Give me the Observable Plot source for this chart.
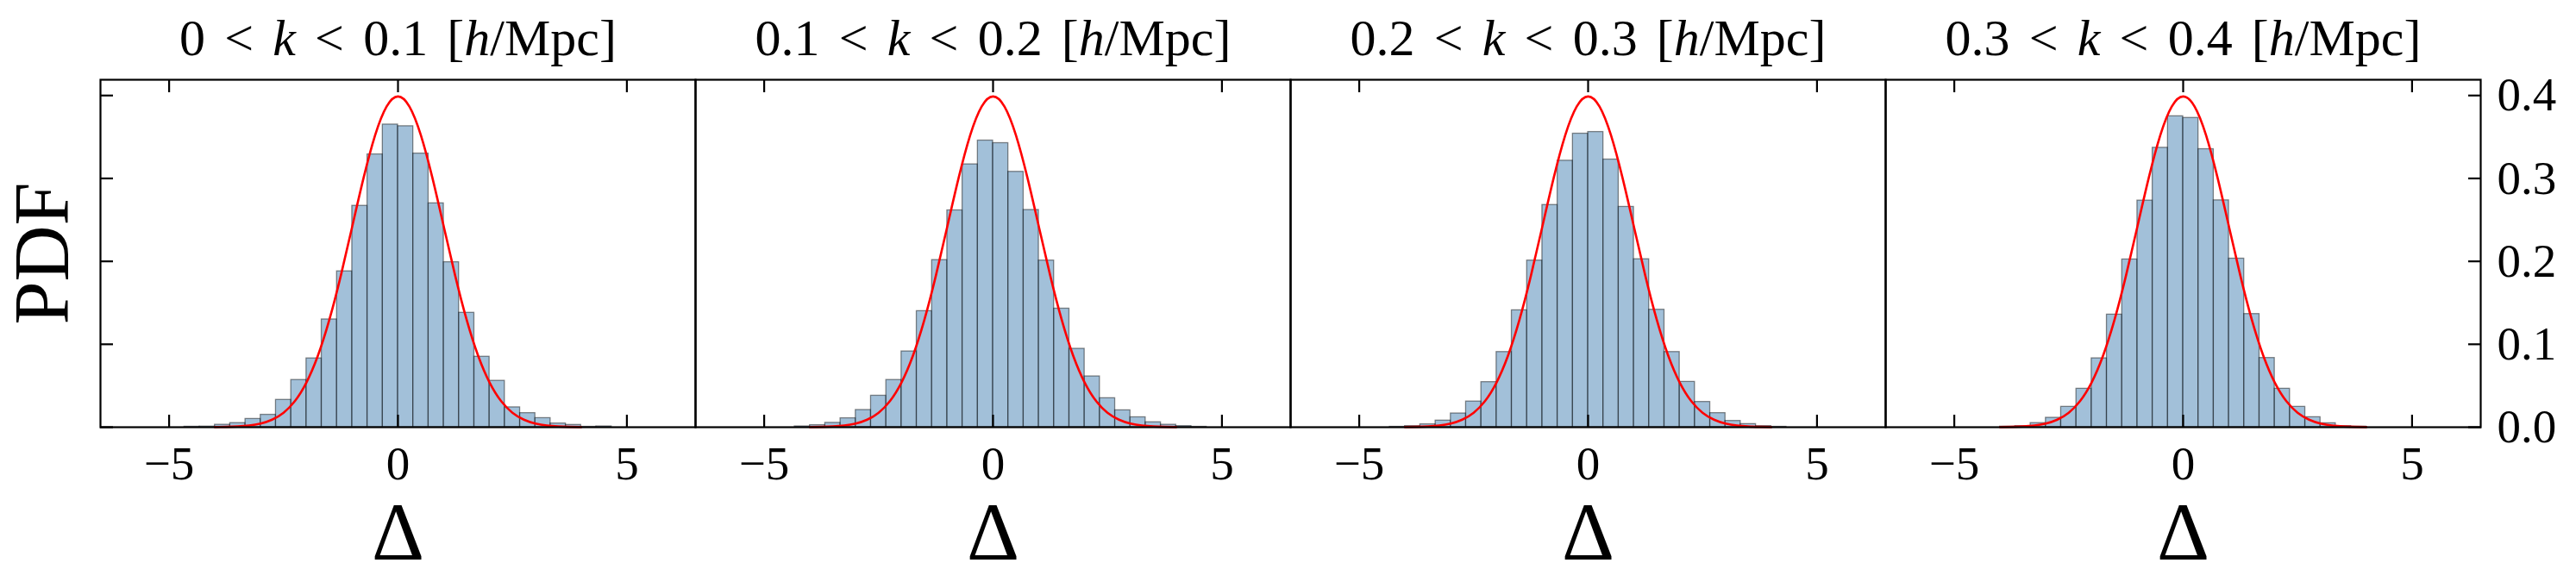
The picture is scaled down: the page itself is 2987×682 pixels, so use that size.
<!DOCTYPE html>
<html><head><meta charset="utf-8">
<script src="https://cdn.jsdelivr.net/npm/d3@7"></script>
<script src="https://cdn.jsdelivr.net/npm/@observablehq/plot@0.6"></script>
<style>html,body{margin:0;padding:0;background:#fff;} #chart{width:2987px;height:682px;}</style>
</head><body><div id="chart"></div>
<script>
const panelTitles = ["0 < k < 0.1 [h/Mpc]", "0.1 < k < 0.2 [h/Mpc]", "0.2 < k < 0.3 [h/Mpc]", "0.3 < k < 0.4 [h/Mpc]"];
const binEdges = [-5, -4.667, -4.333, -4, -3.667, -3.333, -3, -2.667, -2.333, -2, -1.667, -1.333, -1, -0.667, -0.333, 0,
  0.333, 0.667, 1, 1.333, 1.667, 2, 2.333, 2.667, 3, 3.333, 3.667, 4, 4.333, 4.667, 5];
const pdfK1 = [0, 0.0006, 0.0008, 0.003, 0.005, 0.010, 0.015, 0.033, 0.057, 0.083, 0.130, 0.188, 0.267, 0.329, 0.365,
  0.363, 0.330, 0.270, 0.199, 0.138, 0.085, 0.056, 0.024, 0.017, 0.011, 0.0045, 0.0028, 0.0005, 0.001, 0];
const pdfK2 = [0, 0, 0.001, 0.0025, 0.0053, 0.0108, 0.0208, 0.038, 0.057, 0.0914, 0.140, 0.2016, 0.2615, 0.317, 0.3457,
  0.3426, 0.308, 0.262, 0.201, 0.143, 0.0946, 0.0613, 0.035, 0.0204, 0.012, 0.006, 0.003, 0.0014, 0.0005, 0];
const pdfK3 = [0, 0, 0.0005, 0.0014, 0.0035, 0.008, 0.0166, 0.031, 0.0544, 0.0907, 0.141, 0.201, 0.268, 0.3214, 0.354,
  0.356, 0.3228, 0.2657, 0.2026, 0.1417, 0.0907, 0.0547, 0.0305, 0.017, 0.0076, 0.0038, 0.0014, 0.0005, 0, 0];
const pdfK4 = [0, 0, 0, 0.0007, 0.0014, 0.005, 0.0114, 0.0246, 0.0464, 0.0831, 0.1358, 0.2023, 0.2733, 0.337, 0.375,
  0.373, 0.3353, 0.2736, 0.2033, 0.1365, 0.0835, 0.0464, 0.0246, 0.0121, 0.0048, 0.0014, 0.0007, 0, 0, 0];
const gaussX = [-4, -3.75, -3.5, -3.25, -3, -2.75, -2.5, -2.25, -2, -1.75, -1.5, -1.25, -1, -0.75, -0.5, -0.25, 0,
  0.25, 0.5, 0.75, 1, 1.25, 1.5, 1.75, 2, 2.25, 2.5, 2.75, 3, 3.25, 3.5, 3.75, 4];
const gaussY = [0.0001, 0.0004, 0.0009, 0.002, 0.0044, 0.0091, 0.0175, 0.0317, 0.054, 0.0863, 0.1295, 0.1826, 0.242, 0.3011, 0.3521, 0.3867, 0.3989,
  0.3867, 0.3521, 0.3011, 0.242, 0.1826, 0.1295, 0.0863, 0.054, 0.0317, 0.0175, 0.0091, 0.0044, 0.002, 0.0009, 0.0004, 0.0001];
const xTicks = [-5, 0, 5];
const yTicks = [0, 0.1, 0.2, 0.3, 0.4];
const xLabel = "Δ";
const yLabel = "PDF";

const series = [pdfK1, pdfK2, pdfK3, pdfK4];
const bars = [];
series.forEach((vals, p) => vals.forEach((v, i) => {
  if (v > 0) bars.push({panel: panelTitles[p], x1: binEdges[i], x2: binEdges[i + 1], pdf: v});
}));
const curve = panelTitles.flatMap(t => gaussX.map((x, i) => ({panel: t, x, y: gaussY[i]})));

const FONT = "'Liberation Serif', 'DejaVu Serif', serif";
const plot = Plot.plot({
  width: 2987, height: 682,
  marginLeft: 116, marginRight: 111, marginTop: 92, marginBottom: 187,
  style: {fontFamily: FONT, background: "#fff", color: "#000", overflow: "visible"},
  fx: {domain: panelTitles, padding: 0, axis: null, label: null},
  x: {domain: [-6.5, 6.5], label: null},
  y: {domain: [0, 0.419], label: null},
  marks: [
    Plot.rectY(bars, {fx: "panel", x1: "x1", x2: "x2", y: "pdf", fill: "steelblue", fillOpacity: 0.5,
      stroke: "#000", strokeOpacity: 0.45, strokeWidth: 1.3}),
    Plot.line(curve, {fx: "panel", x: "x", y: "y", stroke: "red", strokeWidth: 2.6, curve: "natural"}),
    Plot.frame({stroke: "#000", strokeWidth: 2.2}),
    Plot.axisX({anchor: "bottom", ticks: xTicks, tickSize: -14, strokeWidth: 2.2, text: null, label: null}),
    Plot.axisX({anchor: "top", ticks: xTicks, tickSize: -14, strokeWidth: 2.2, text: null, label: null}),
    Plot.axisX({anchor: "bottom", ticks: xTicks, tickSize: 0, tickPadding: 21, fontSize: 55, label: null}),
    Plot.axisY({anchor: "left", ticks: yTicks, tickSize: -15, strokeWidth: 2.2, text: null, label: null}),
    Plot.axisY({anchor: "right", ticks: yTicks, tickSize: -15, strokeWidth: 2.2, text: null, label: null}),
    Plot.axisY({anchor: "right", ticks: yTicks, tickSize: 0, tickPadding: 19, tickFormat: ".1f", fontSize: 55, label: null}),
    Plot.text(panelTitles, {fx: d => d, text: d => d, frameAnchor: "top", lineAnchor: "middle", dy: -48, fontSize: 60}),
    Plot.text(panelTitles, {fx: d => d, text: d => xLabel, frameAnchor: "bottom", lineAnchor: "middle", dy: 123, fontSize: 95}),
    Plot.text([panelTitles[0]], {fx: d => d, text: d => yLabel, frameAnchor: "left", textAnchor: "middle", lineAnchor: "middle", dx: -66, rotate: -90, fontSize: 90})
  ]
});
document.getElementById("chart").appendChild(plot);

// italicise the math variables k and h in panel titles
d3.select(plot).selectAll("text").each(function () {
  const s = this.textContent;
  if (!s.includes("Mpc") || this.querySelector("tspan")) return;
  this.textContent = "";
  s.split(/([kh])/).forEach(part => {
    if (!part) return;
    const t = document.createElementNS("http://www.w3.org/2000/svg", "tspan");
    if (part === "k" || part === "h") t.setAttribute("font-style", "italic");
    t.textContent = part;
    this.appendChild(t);
  });
  this.setAttribute("word-spacing", "0.12em");
});
</script>
</body></html>
